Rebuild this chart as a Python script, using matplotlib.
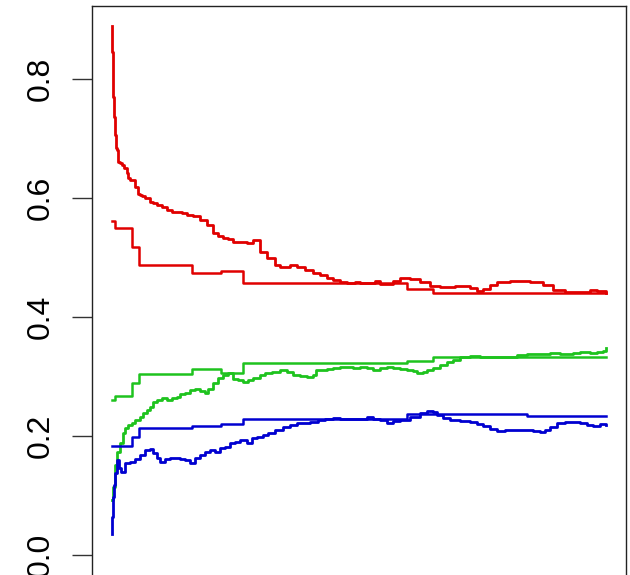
import matplotlib
matplotlib.use("Agg")
import matplotlib.pyplot as plt

# running estimates (noisy) per class
red_x = [0, 0, 1, 2, 3, 4, 5, 6, 8, 10,
         12, 15, 16, 18, 20, 23, 26, 28, 30, 33,
         38, 41, 45, 50, 55, 60, 65, 70, 75, 81,
         88, 95, 101, 106, 111, 116, 121, 128, 135, 141,
         148, 155, 163, 168, 178, 185, 193, 201, 208, 215,
         221, 228, 235, 243, 248, 258, 263, 268, 275, 281,
         288, 298, 308, 318, 328, 343, 358, 365, 371, 378,
         385, 398, 418, 431, 441, 453, 473, 478, 485, 494]
red_y = [0.889, 0.845, 0.770, 0.736, 0.706, 0.684, 0.681, 0.661, 0.659, 0.655,
         0.650, 0.642, 0.634, 0.630, 0.630, 0.618, 0.607, 0.605, 0.603, 0.600,
         0.593, 0.592, 0.588, 0.585, 0.580, 0.576, 0.576, 0.575, 0.571, 0.570,
         0.563, 0.555, 0.541, 0.536, 0.533, 0.531, 0.526, 0.526, 0.524, 0.529,
         0.509, 0.499, 0.487, 0.484, 0.487, 0.484, 0.479, 0.474, 0.471, 0.466,
         0.462, 0.459, 0.457, 0.459, 0.457, 0.457, 0.461, 0.455, 0.455, 0.461,
         0.466, 0.464, 0.459, 0.452, 0.450, 0.452, 0.449, 0.444, 0.447, 0.454,
         0.459, 0.461, 0.459, 0.454, 0.445, 0.442, 0.442, 0.445, 0.444, 0.440]

green_x = [0, 1, 3, 5, 8, 11, 13, 16, 20, 23,
           28, 31, 35, 38, 41, 45, 50, 55, 60, 65,
           68, 73, 78, 83, 88, 93, 96, 101, 106, 111,
           116, 121, 126, 131, 136, 141, 148, 153, 160, 168,
           175, 181, 188, 195, 201, 204, 215, 221, 228, 235,
           241, 248, 255, 261, 268, 275, 281, 288, 295, 301,
           305, 311, 315, 321, 328, 335, 341, 348, 358, 368,
           378, 388, 398, 405, 415, 428, 438, 448, 461, 468,
           478, 485, 491, 494]
green_y = [0.092, 0.114, 0.151, 0.173, 0.188, 0.205, 0.213, 0.218, 0.222, 0.227,
           0.232, 0.239, 0.244, 0.249, 0.257, 0.261, 0.264, 0.261, 0.264, 0.266,
           0.271, 0.272, 0.277, 0.279, 0.276, 0.272, 0.279, 0.289, 0.297, 0.303,
           0.306, 0.296, 0.294, 0.291, 0.294, 0.297, 0.303, 0.306, 0.308, 0.311,
           0.308, 0.303, 0.301, 0.299, 0.303, 0.311, 0.313, 0.314, 0.316, 0.316,
           0.314, 0.316, 0.314, 0.311, 0.314, 0.316, 0.314, 0.313, 0.311, 0.309,
           0.306, 0.308, 0.311, 0.314, 0.319, 0.324, 0.328, 0.333, 0.334, 0.333,
           0.333, 0.333, 0.333, 0.336, 0.338, 0.338, 0.339, 0.338, 0.339, 0.341,
           0.339, 0.341, 0.343, 0.348]

blue_x = [0, 0, 1, 2, 3, 5, 7, 9, 13, 18,
          23, 28, 33, 38, 41, 45, 48, 53, 58, 63,
          68, 73, 78, 83, 88, 93, 98, 103, 108, 113,
          118, 123, 128, 135, 140, 145, 151, 156, 163, 171,
          178, 185, 191, 198, 206, 213, 221, 228, 238, 248,
          255, 261, 268, 275, 281, 288, 298, 308, 315, 321,
          325, 331, 338, 348, 358, 365, 371, 378, 385, 393,
          403, 413, 421, 428, 433, 438, 445, 453, 461, 468,
          475, 481, 488, 494]
blue_y = [0.035, 0.064, 0.097, 0.118, 0.138, 0.160, 0.146, 0.139, 0.155, 0.156,
          0.161, 0.168, 0.176, 0.178, 0.171, 0.163, 0.156, 0.161, 0.163, 0.163,
          0.161, 0.160, 0.155, 0.163, 0.168, 0.173, 0.176, 0.173, 0.180, 0.182,
          0.188, 0.190, 0.193, 0.188, 0.197, 0.198, 0.202, 0.205, 0.210, 0.215,
          0.218, 0.222, 0.222, 0.224, 0.227, 0.229, 0.230, 0.229, 0.229, 0.229,
          0.232, 0.229, 0.227, 0.222, 0.225, 0.227, 0.232, 0.239, 0.242, 0.240,
          0.235, 0.230, 0.227, 0.225, 0.224, 0.220, 0.217, 0.212, 0.208, 0.210,
          0.210, 0.210, 0.208, 0.207, 0.210, 0.215, 0.222, 0.224, 0.224, 0.222,
          0.218, 0.217, 0.220, 0.218]

# step estimates
step_x = [0, 3, 20, 27, 80, 109, 131, 295, 321, 415, 494]
red_step = [0.561, 0.550, 0.518, 0.487, 0.474, 0.477, 0.457, 0.447, 0.440, 0.440, 0.440]
green_step = [0.261, 0.267, 0.289, 0.304, 0.313, 0.306, 0.323, 0.326, 0.333, 0.333, 0.333]
blue_step = [0.183, 0.183, 0.198, 0.213, 0.217, 0.220, 0.229, 0.237, 0.237, 0.234, 0.234]

yticks = [0.0, 0.2, 0.4, 0.6, 0.8]
ytick_labels = ["0.0", "0.2", "0.4", "0.6", "0.8"]

RED = "#e00000"
GREEN = "#1ec31e"
BLUE = "#0000d0"

plt.rcParams["font.family"] = ["Liberation Sans", "DejaVu Sans"]

fig = plt.figure(figsize=(6.3, 5.75), dpi=100)
ax = fig.add_axes([92 / 630, -3.8 / 575, 534 / 630, 573 / 575])

lw = 2.0
for xs, ys, c in [(red_x, red_y, RED), (green_x, green_y, GREEN), (blue_x, blue_y, BLUE)]:
    ax.plot(xs, ys, color=c, lw=lw, drawstyle="steps-post")
ax.plot(step_x, red_step, color=RED, lw=1.8, drawstyle="steps-post")
ax.plot(step_x, green_step, color=GREEN, lw=1.8, drawstyle="steps-post")
ax.plot(step_x, blue_step, color=BLUE, lw=1.8, drawstyle="steps-post")

n = step_x[-1]
ax.set_xlim(-0.04 * n, 1.04 * n)
ax.set_ylim(-0.04, 0.923)

ax.set_xticks([])
ax.set_yticks(yticks)
ax.set_yticklabels(ytick_labels, rotation=90, va="center", fontsize=23)
ax.tick_params(axis="y", length=14.4, width=1.0, color="#333333", pad=12)

for s in ax.spines.values():
    s.set_linewidth(1.0)
    s.set_color("#222222")

fig.savefig("out.png", dpi=100)
